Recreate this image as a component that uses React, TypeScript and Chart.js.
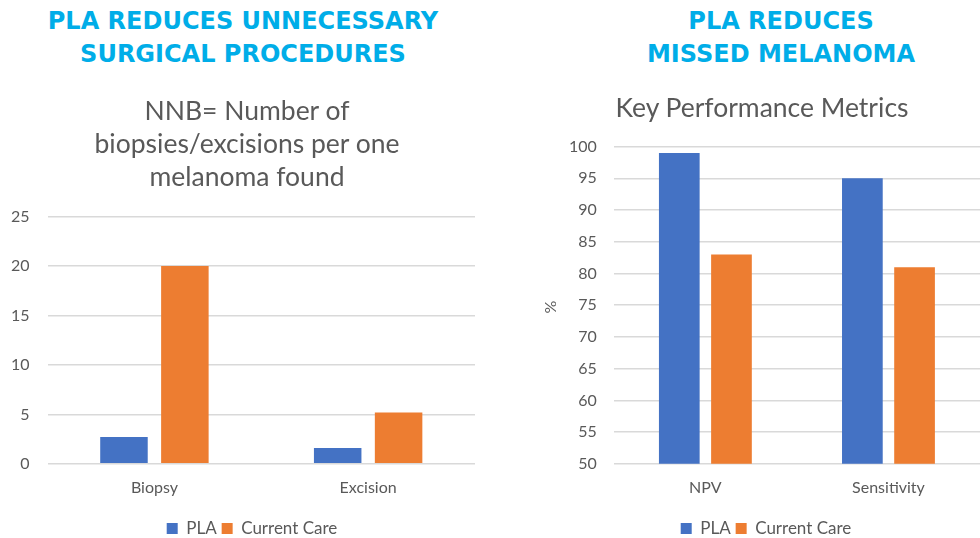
import React, { useEffect, useRef } from "react";
import { Chart, registerables } from "chart.js";

Chart.register(...registerables);

const seriesNames = ["PLA", "Current Care"];
const seriesColors = ["#4472C4", "#ED7D31"];

const leftCategories = ["Biopsy", "Excision"];
const leftPLA = [2.7, 1.6];
const leftCurrentCare = [20, 5.2];

const rightCategories = ["NPV", "Sensitivity"];
const rightPLA = [99, 95];
const rightCurrentCare = [83, 81];

const leftTitle = ["PLA REDUCES UNNECESSARY", "SURGICAL PROCEDURES"];
const leftSubtitle = ["NNB= Number of", "biopsies/excisions per one", "melanoma found"];
const rightTitle = ["PLA REDUCES", "MISSED MELANOMA"];
const rightSubtitle = ["Key Performance Metrics"];
const rightYAxisTitle = "%";

const FONT = "Lato, 'Open Sans', sans-serif";
const GRAY = "#595959";
const GRID = "#d9d9d9";
const CYAN = "#00ADE8";

function makeConfig(
  categories: string[],
  a: number[],
  b: number[],
  min: number,
  max: number,
  padding: any,
  tickPad: number,
  extraBottom: number,
  legendShift: number
): any {
  return {
    type: "bar",
    data: {
      labels: categories,
      datasets: [
        { label: seriesNames[0], data: a, backgroundColor: seriesColors[0], categoryPercentage: 0.57, barPercentage: 0.78 },
        { label: seriesNames[1], data: b, backgroundColor: seriesColors[1], categoryPercentage: 0.57, barPercentage: 0.78 },
      ],
    },
    plugins: [
      {
        id: "legendShift",
        afterLayout(chart: any) {
          if (chart.legend && legendShift) {
            chart.legend.left += legendShift;
            chart.legend.right += legendShift;
          }
        },
      },
    ],
    options: {
      animation: false,
      responsive: false,
      maintainAspectRatio: false,
      layout: { padding },
      plugins: {
        legend: {
          position: "bottom",
          labels: {
            boxWidth: 11,
            boxHeight: 11,
            padding: 5,
            color: GRAY,
            font: { family: FONT, size: 17 },
          },
        },
        tooltip: { enabled: false },
      },
      scales: {
        x: {
          grid: { display: false, drawTicks: false },
          border: { display: false },
          ticks: { color: GRAY, font: { family: FONT, size: 16 }, padding: 14 },
          afterFit: (scale: any) => {
            scale.height += extraBottom;
          },
        },
        y: {
          min,
          max,
          grid: { color: GRID, lineWidth: 1.5, drawTicks: false },
          border: { display: false },
          ticks: { stepSize: 5, color: GRAY, font: { family: FONT, size: 16 }, padding: tickPad },
        },
      },
    },
  };
}

function ChartCanvas({ config, style, w, h }: { config: any; style: any; w: number; h: number }) {
  const ref = useRef<HTMLCanvasElement | null>(null);
  useEffect(() => {
    if (!ref.current) return;
    const c = new Chart(ref.current, config);
    return () => c.destroy();
  }, []);
  return <canvas ref={ref} width={w} height={h} style={{ position: "absolute", width: w, height: h, ...style }} />;
}

function TextBlock({ lines, cx, top, lineHeight, style }: any) {
  return (
    <div
      style={{
        position: "absolute",
        left: cx - 250,
        width: 500,
        top,
        textAlign: "center",
        lineHeight: lineHeight + "px",
        whiteSpace: "nowrap",
        ...style,
      }}
    >
      {lines.map((l: string, i: number) => (
        <div key={i}>{l}</div>
      ))}
    </div>
  );
}

export default function App() {
  useEffect(() => {
    document.body.style.margin = "0";
  }, []);
  const titleStyle = { color: CYAN, fontFamily: "'DejaVu Sans', sans-serif", fontWeight: 700, fontSize: 24 };
  const subStyle = { color: GRAY, fontFamily: FONT, fontSize: 26.5 };
  return (
    <div style={{ position: "relative", width: 980, height: 538, background: "#fff", overflow: "hidden" }}>
      <ChartCanvas
        config={makeConfig(leftCategories, leftPLA, leftCurrentCare, 0, 25, { left: 0, right: 15, top: 0, bottom: 0 }, 18, 4, 18)}
        style={{ left: -7, top: 189 }}
        w={497}
        h={358}
      />
      <ChartCanvas
        config={makeConfig(rightCategories, rightPLA, rightCurrentCare, 50, 100, { left: 62, right: 0, top: 0, bottom: 0 }, 17, 4, 0)}
        style={{ left: 490, top: 120 }}
        w={490}
        h={427}
      />
      <TextBlock lines={leftTitle} cx={243} top={5} lineHeight={33} style={titleStyle} />
      <TextBlock lines={rightTitle} cx={781} top={5} lineHeight={33} style={titleStyle} />
      <TextBlock lines={leftSubtitle} cx={247} top={94} lineHeight={33} style={subStyle} />
      <TextBlock lines={rightSubtitle} cx={762} top={91} lineHeight={33} style={subStyle} />
      <div
        style={{
          position: "absolute",
          left: 550 - 20,
          top: 307 - 10,
          width: 40,
          height: 20,
          lineHeight: "20px",
          textAlign: "center",
          transform: "rotate(-90deg)",
          color: GRAY,
          fontFamily: FONT,
          fontSize: 16,
        }}
      >
        {rightYAxisTitle}
      </div>
    </div>
  );
}
